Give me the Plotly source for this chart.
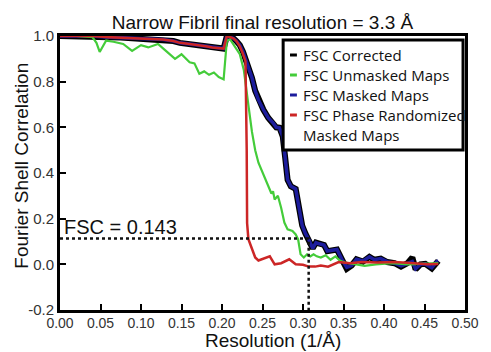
import plotly.graph_objects as go

# ---------------- data ----------------
red_x = [0.0, 0.02, 0.04, 0.06, 0.075, 0.09, 0.11, 0.127, 0.14, 0.148, 0.16, 0.172, 0.18, 0.188,
         0.196, 0.202, 0.206, 0.21, 0.214, 0.218, 0.222, 0.225, 0.229, 0.2305, 0.231, 0.2326,
         0.237, 0.241, 0.245, 0.252, 0.259, 0.265, 0.273, 0.283, 0.291, 0.300, 0.307, 0.315,
         0.322, 0.331, 0.344, 0.358, 0.372, 0.392, 0.413, 0.433, 0.453, 0.467]
red_y = [1.0, 1.0, 1.0, 0.995, 0.993, 0.99, 0.988, 0.985, 0.978, 0.97, 0.965, 0.96, 0.955, 0.95,
         0.948, 0.945, 1.0, 0.995, 0.99, 0.977, 0.955, 0.93, 0.89, 0.5, 0.18, 0.11,
         0.066, 0.03, 0.017, 0.025, 0.035, 0.0, 0.005, 0.022, 0.0, -0.002, -0.01, -0.01,
         -0.005, -0.01, 0.01, 0.005, 0.01, 0.008, 0.01, 0.006, 0.0, 0.002]

green_x = [0.0, 0.02, 0.04, 0.045, 0.049, 0.057, 0.066, 0.078, 0.089, 0.1, 0.109, 0.121, 0.129,
           0.142, 0.15, 0.16, 0.166, 0.172, 0.178, 0.184, 0.19, 0.196, 0.202, 0.206, 0.21, 0.216,
           0.222, 0.227, 0.23, 0.233, 0.237, 0.241, 0.245, 0.251, 0.255, 0.259, 0.261, 0.263,
           0.265, 0.269, 0.273, 0.277, 0.281, 0.287, 0.291, 0.294, 0.297, 0.301, 0.305, 0.309,
           0.313, 0.317, 0.322, 0.328, 0.334, 0.34, 0.346, 0.352, 0.364, 0.376, 0.39, 0.41,
           0.43, 0.45, 0.467]
green_y = [1.0, 1.0, 0.995, 0.97, 0.93, 0.98, 0.975, 0.965, 0.935, 0.96, 0.95, 0.965, 0.94,
           0.9, 0.92, 0.885, 0.88, 0.835, 0.845, 0.83, 0.84, 0.82, 0.81, 0.98, 0.985, 0.955,
           0.92, 0.85, 0.76, 0.686, 0.58, 0.5, 0.445, 0.393, 0.364, 0.327, 0.31, 0.32,
           0.284, 0.30, 0.248, 0.183, 0.153, 0.146, 0.131, 0.109, 0.044, 0.03, 0.044, 0.035,
           0.044, 0.035, 0.03, 0.04, 0.02, 0.035, 0.015, 0.008, 0.002, -0.007, 0.0, 0.005,
           0.0, 0.003, 0.005]

blue_x = [0.0, 0.02, 0.04, 0.06, 0.075, 0.09, 0.11, 0.127, 0.14, 0.148, 0.16, 0.172, 0.18, 0.188,
          0.196, 0.202, 0.206, 0.21, 0.214, 0.218, 0.222, 0.226, 0.229, 0.233, 0.237, 0.241,
          0.245, 0.251, 0.257, 0.263, 0.267, 0.271, 0.275, 0.278, 0.281, 0.285, 0.291, 0.295,
          0.299, 0.303, 0.307, 0.312, 0.316, 0.32, 0.326, 0.33, 0.337, 0.342, 0.348, 0.354,
          0.36, 0.366, 0.374, 0.382, 0.388, 0.396, 0.404, 0.413, 0.421, 0.429, 0.435, 0.439,
          0.445, 0.451, 0.459, 0.465, 0.467]
blue_y = [1.0, 1.0, 1.0, 0.995, 0.993, 0.99, 0.988, 0.985, 0.978, 0.97, 0.965, 0.96, 0.955, 0.95,
          0.948, 0.945, 1.0, 0.995, 0.99, 0.977, 0.96, 0.93, 0.9, 0.86, 0.817, 0.76,
          0.72, 0.678, 0.642, 0.62, 0.6, 0.598, 0.56, 0.467, 0.37, 0.342, 0.33, 0.25,
          0.17, 0.135, 0.11, 0.07, 0.095, 0.09, 0.085, 0.058, 0.062, 0.065, 0.022, -0.013,
          -0.005, 0.022, 0.015, 0.033, 0.02, 0.025, 0.012, 0.005, -0.007, 0.005, 0.012, -0.02,
          0.0, 0.002, -0.015, 0.012, 0.015]

black_x = blue_x
black_y = [1.0, 1.0, 1.0, 0.995, 0.993, 0.99, 0.988, 0.985, 0.978, 0.97, 0.965, 0.96, 0.955, 0.95,
           0.948, 0.945, 1.0, 0.995, 0.99, 0.977, 0.96, 0.93, 0.9, 0.86, 0.817, 0.76,
           0.72, 0.678, 0.642, 0.62, 0.6, 0.598, 0.56, 0.467, 0.37, 0.342, 0.33, 0.25,
           0.17, 0.135, 0.11, 0.07, 0.095, 0.09, 0.085, 0.058, 0.062, 0.065, 0.022, -0.02,
           -0.005, 0.022, 0.012, 0.033, 0.02, 0.025, 0.01, 0.005, -0.01, 0.005, 0.03, -0.022,
           0.0, 0.002, -0.018, 0.012, 0.015]

threshold_line_y = 0.113       # where the dotted threshold line is drawn
resolution_cut_x = 0.307       # x where curve crosses threshold
x_ticks = [0.0, 0.05, 0.10, 0.15, 0.20, 0.25, 0.30, 0.35, 0.40, 0.45, 0.50]
y_ticks = [-0.2, 0.0, 0.2, 0.4, 0.6, 0.8, 1.0]

series_names = ["FSC Corrected", "FSC Unmasked Maps", "FSC Masked Maps",
                "FSC Phase Randomized<br>Masked Maps"]
series_colors = ["#000000", "#44cc3a", "#1c1c9c", "#cc2626"]

# ---------------- figure ----------------
fig = go.Figure()
fig.add_trace(go.Scatter(x=black_x, y=black_y, mode="lines",
                         line=dict(color=series_colors[0], width=6), showlegend=False))
fig.add_trace(go.Scatter(x=blue_x, y=blue_y, mode="lines",
                         line=dict(color=series_colors[2], width=3.5), showlegend=False))
fig.add_trace(go.Scatter(x=green_x, y=green_y, mode="lines",
                         line=dict(color=series_colors[1], width=2.2), showlegend=False))
fig.add_trace(go.Scatter(x=red_x, y=red_y, mode="lines",
                         line=dict(color=series_colors[3], width=2.5), showlegend=False))

# dotted threshold lines
fig.add_trace(go.Scatter(x=[0.0, resolution_cut_x, resolution_cut_x],
                         y=[threshold_line_y, threshold_line_y, -0.2], mode="lines",
                         line=dict(color="#111", width=2.5, dash="dot"), showlegend=False))

font_main = "Liberation Sans, Arial, sans-serif"
fig.update_layout(
    width=491, height=352,
    margin=dict(l=60, r=19, t=36, b=42),
    paper_bgcolor="white", plot_bgcolor="white",
    font=dict(family=font_main, color="#222"),
    title=dict(text="Narrow Fibril final resolution = 3.3 Å", x=0.5, xref="paper",
               xanchor="center", y=1 - 22 / 352, yanchor="middle", yref="container",
               font=dict(size=19, color="#111", family=font_main)),
    xaxis=dict(range=[0, 0.5], tickvals=x_ticks, ticktext=[f"{v:.2f}" for v in x_ticks],
               showgrid=False, zeroline=False, showline=True, linecolor="black",
               linewidth=3, mirror=True, ticks="inside", ticklen=6, tickwidth=2,
               tickcolor="black", tickfont=dict(size=14, color="#333"), ticklabelstandoff=-2),
    yaxis=dict(range=[-0.2, 1.0], tickvals=y_ticks, ticktext=[f"{v:.1f}" for v in y_ticks],
               showgrid=False, zeroline=False, showline=True, linecolor="black",
               linewidth=3, mirror=True, ticks="inside", ticklen=6, tickwidth=2,
               tickcolor="black", tickfont=dict(size=15, color="#333"), ticklabelstandoff=0),
    showlegend=False,
)

# axis titles
fig.add_annotation(text="Resolution (1/Å)", xref="paper", yref="paper",
                   x=(277 - 60) / 412, y=(310 - 340) / 274, xanchor="center", yanchor="middle",
                   showarrow=False, font=dict(size=19, color="#111"))
fig.add_annotation(text="Fourier Shell Correlation", xref="paper", yref="paper",
                   x=(20 - 60) / 412, y=(310 - 166) / 274, xanchor="center", yanchor="middle",
                   textangle=-90, showarrow=False, font=dict(size=19, color="#111"))
fig.add_annotation(text="FSC = 0.143", xref="x", yref="y", x=0.003,
                   y=0.162, xanchor="left", yanchor="middle", showarrow=False,
                   font=dict(size=20, color="#111"))

# legend (manual)
lx0, lx1 = (287 - 60) / 412, (470 - 60) / 412
ly0, ly1 = (310 - 150) / 274, (310 - 40) / 274
fig.add_shape(type="rect", xref="paper", yref="paper", x0=lx0, x1=lx1, y0=ly0, y1=ly1,
              line=dict(color="black", width=3), fillcolor="white", layer="above")
leg_font = "Open Sans, Noto Sans, sans-serif"
rows_py = [55, 75, 95, 115]
for name, col, py in zip(series_names, series_colors, rows_py):
    yy = (310 - py) / 274
    fig.add_shape(type="line", xref="paper", yref="paper",
                  x0=(294 - 60) / 412, x1=(301 - 60) / 412, y0=yy, y1=yy,
                  line=dict(color=col, width=3), layer="above")
    ty = yy if "<br>" not in name else (310 - 125) / 274
    fig.add_annotation(text=name, xref="paper", yref="paper", x=(305 - 60) / 412, y=ty,
                       xanchor="left", yanchor="middle", align="left", showarrow=False,
                       font=dict(size=15, color="#111", family=leg_font))

fig.write_html("out.html")
